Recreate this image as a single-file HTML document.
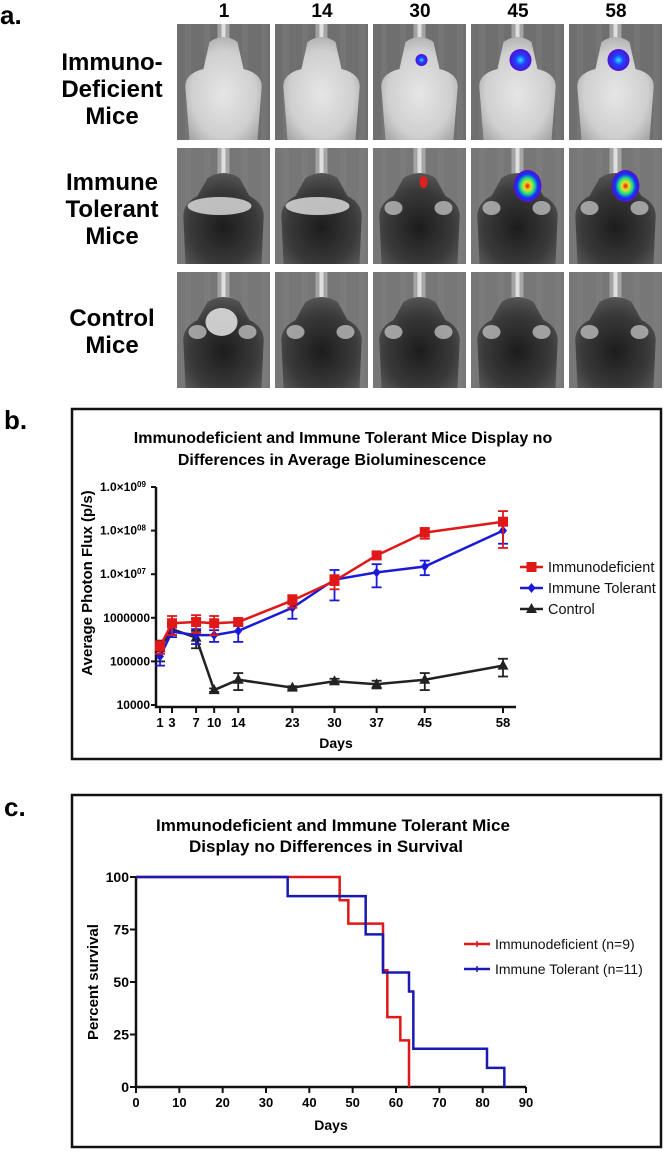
<!DOCTYPE html>
<html><head><meta charset="utf-8">
<style>
html,body{margin:0;padding:0;background:#fff;}
body{width:664px;height:1150px;overflow:hidden;font-family:"Liberation Sans",Arial,sans-serif;}
svg text{font-family:"Liberation Sans",Arial,sans-serif;}
</style></head>
<body>
<svg id="fig" width="664" height="1150" viewBox="0 0 664 1150" xmlns="http://www.w3.org/2000/svg">
<defs>
  <radialGradient id="lightBody" cx="50%" cy="55%" r="60%">
    <stop offset="0" stop-color="#e6e6e6"/><stop offset="0.7" stop-color="#cfcfcf"/><stop offset="1" stop-color="#a8a8a8"/>
  </radialGradient>
  <radialGradient id="darkBody" cx="50%" cy="60%" r="60%">
    <stop offset="0" stop-color="#1c1c1c"/><stop offset="0.7" stop-color="#3a3a3a"/><stop offset="1" stop-color="#555"/>
  </radialGradient>
  <radialGradient id="sigBlue" cx="50%" cy="50%" r="50%">
    <stop offset="0" stop-color="#30e0ff"/><stop offset="0.45" stop-color="#2040ff"/><stop offset="1" stop-color="#5010d0"/>
  </radialGradient>
  <radialGradient id="sigHot" cx="50%" cy="50%" r="50%">
    <stop offset="0" stop-color="#e01010"/><stop offset="0.25" stop-color="#f0e020"/><stop offset="0.5" stop-color="#20e080"/><stop offset="0.75" stop-color="#1030ff"/><stop offset="1" stop-color="#6010c0"/>
  </radialGradient>
</defs>

<!-- Panel a -->
<text x="0" y="24" font-size="26" font-weight="bold">a.</text>
<g id="colLabels" font-size="19" font-weight="bold" text-anchor="middle">
  <text x="224" y="17">1</text>
  <text x="322" y="17">14</text>
  <text x="420" y="17">30</text>
  <text x="518" y="17">45</text>
  <text x="616" y="17">58</text>
</g>
<g font-size="24" font-weight="bold" text-anchor="middle">
  <text x="112" y="70">Immuno-</text>
  <text x="112" y="97">Deficient</text>
  <text x="112" y="124">Mice</text>
  <text x="112" y="190">Immune</text>
  <text x="112" y="217">Tolerant</text>
  <text x="112" y="244">Mice</text>
  <text x="112" y="326">Control</text>
  <text x="112" y="353">Mice</text>
</g>
<g id="tiles"></g>

<!-- Panel b -->
<text x="4" y="429" font-size="26" font-weight="bold">b.</text>
<rect x="72" y="409" width="589" height="350" fill="none" stroke="#111" stroke-width="2.5"/>
<g id="chartB"></g>

<!-- Panel c -->
<text x="4" y="816" font-size="26" font-weight="bold">c.</text>
<rect x="72" y="795" width="589" height="352" fill="none" stroke="#111" stroke-width="2.5"/>
<g id="chartC"></g>
</svg>

<script>
// ===== Chart B data =====
const daysB = [1, 3, 7, 10, 14, 23, 30, 37, 45, 58];
const xTicksB = [1, 3, 7, 10, 14, 23, 30, 37, 45, 58];
const immunodeficientMean = [2.2e5, 7.5e5, 8e5, 7.5e5, 8e5, 2.5e6, 7e6, 2.7e7, 9e7, 1.6e8];
const immunodeficientErr = [0.7e5, 3.5e5, 3.5e5, 3.5e5, 1.5e5, 0.8e6, 2.5e6, 0.5e7, 2.5e7, 1.2e8];
const immuneTolerantMean = [1.3e5, 4.8e5, 4e5, 4e5, 5e5, 1.7e6, 7.5e6, 1.1e7, 1.5e7, 1e8];
const immuneTolerantErr = [0.5e5, 1.2e5, 1.5e5, 1.2e5, 2.2e5, 0.75e6, 5e6, 0.6e7, 0.55e7, 0.5e8];
const controlMean = [2e5, 5.5e5, 3.5e5, 2.2e4, 3.8e4, 2.5e4, 3.5e4, 3e4, 3.8e4, 8e4];
const controlErr = [1e5, 1.5e5, 1.5e5, 0.2e4, 1.6e4, 0.2e4, 0.5e4, 0.6e4, 1.6e4, 3.5e4];
const yTickValsB = [1e4, 1e5, 1e6, 1e7, 1e8, 1e9];
const yTickLabelsB = ["10000", "100000", "1000000", "1.0×10", "1.0×10", "1.0×10"];
const yTickSupB = ["", "", "", "07", "08", "09"];

// ===== Chart C data =====
const idStepDays = [0, 47, 49, 57, 58, 61, 63];
const idStepPct = [100, 88.9, 77.8, 55.6, 33.3, 22.2, 0];
const itStepDays = [0, 35, 53, 57, 63, 64, 81, 85];
const itStepPct = [100, 90.9, 72.7, 54.5, 45.5, 18.2, 9.1, 0];
const xTicksC = [0, 10, 20, 30, 40, 50, 60, 70, 80, 90];
const yTicksC = [0, 25, 50, 75, 100];

const NS = "http://www.w3.org/2000/svg";
function mk(parent, tag, attrs, text) {
  const e = document.createElementNS(NS, tag);
  for (const k in attrs) e.setAttribute(k, attrs[k]);
  if (text !== undefined) e.textContent = text;
  parent.appendChild(e);
  return e;
}

// ===== Panel a tiles =====
(function () {
  const g = document.getElementById('tiles');
  const cols = [177, 275, 373, 471, 569];
  const rows = [24, 148, 272];
  const tw = 93, th = 116;
  const colDays = ["1", "14", "30", "45", "58"];
  const rowNames = ["immunodeficient", "immune-tolerant", "control"];
  rows.forEach((ry, ri) => {
    cols.forEach((cx, ci) => {
      const t = mk(g, 'g', {});
      
      
      mk(t, 'rect', {x: cx, y: ry, width: tw, height: th, fill: ri === 0 ? '#6f6f6f' : '#777'});
      // streaks
      for (let s = 0; s < 5; s++) mk(t, 'rect', {x: cx + 8 + s * 19, y: ry, width: 6, height: th, fill: '#888', opacity: 0.25});
      const mx = cx + tw / 2;
      // nose cone tube
      mk(t, 'rect', {x: mx - 6, y: ry, width: 12, height: 38, fill: '#b8b8b8', opacity: 0.7});
      mk(t, 'rect', {x: mx - 2, y: ry, width: 4, height: 38, fill: '#eee', opacity: 0.8});
      if (ri === 0) {
        mk(t, 'path', {d: `M${mx-14},${ry+18} Q${mx},${ry+8} ${mx+14},${ry+18} L${mx+20},${ry+45} Q${mx+40},${ry+50} ${mx+38},${ry+65} L${mx+34},${ry+th} L${mx-34},${ry+th} L${mx-38},${ry+65} Q${mx-40},${ry+50} ${mx-20},${ry+45} Z`, fill: 'url(#lightBody)'});
      } else {
        mk(t, 'path', {d: `M${mx-16},${ry+30} Q${mx},${ry+20} ${mx+16},${ry+30} L${mx+26},${ry+48} Q${mx+42},${ry+56} ${mx+40},${ry+72} L${mx+38},${ry+th} L${mx-38},${ry+th} L${mx-40},${ry+72} Q${mx-42},${ry+56} ${mx-26},${ry+48} Z`, fill: 'url(#darkBody)'});
        if (ri === 1 && ci < 2) mk(t, 'ellipse', {cx: mx - 4, cy: ry + 58, rx: 32, ry: 9, fill: '#d8d8d8', opacity: 0.85});
        else { mk(t, 'ellipse', {cx: mx - 26, cy: ry + 60, rx: 9, ry: 7, fill: '#bbb', opacity: 0.8}); mk(t, 'ellipse', {cx: mx + 24, cy: ry + 60, rx: 9, ry: 7, fill: '#bbb', opacity: 0.8}); }
        if (ri === 2 && ci === 0) mk(t, 'ellipse', {cx: mx - 2, cy: ry + 50, rx: 16, ry: 14, fill: '#ddd', opacity: 0.9});
      }
      // signals
      if (ri === 0 && ci === 2) mk(t, 'circle', {cx: mx + 2, cy: ry + 36, r: 6, fill: 'url(#sigBlue)'});
      if (ri === 0 && ci >= 3) mk(t, 'circle', {cx: mx + 3, cy: ry + 36, r: 11, fill: 'url(#sigBlue)'});
      if (ri === 1 && ci === 2) mk(t, 'ellipse', {cx: mx + 4, cy: ry + 34, rx: 4, ry: 6, fill: '#e02020'});
      if (ri === 1 && ci >= 3) mk(t, 'ellipse', {cx: mx + 10, cy: ry + 38, rx: 14, ry: 16, fill: 'url(#sigHot)'});
    });
  });
})();

// ===== Chart B =====
(function () {
  const g = document.getElementById('chartB');
  const x0 = 160, x1 = 503, d0 = 1, d1 = 58;
  const yTop = 487, yBot = 705;
  const xS = d => x0 + (d - d0) * (x1 - x0) / (d1 - d0);
  const yS = v => yBot - (Math.log10(v) - 4) * (yBot - yTop) / 5;

  const t1 = mk(g, 'text', {x: 343, y: 443, 'font-size': 16, 'font-weight': 'bold', 'text-anchor': 'middle'}, 'Immunodeficient and Immune Tolerant Mice Display no');
  
  
  const t2 = mk(g, 'text', {x: 332, y: 465, 'font-size': 16, 'font-weight': 'bold', 'text-anchor': 'middle'}, 'Differences in Average Bioluminescence');
  
  

  const ax = mk(g, 'path', {d: `M156,${yTop} L156,707 L516,707`, fill: 'none', stroke: '#111', 'stroke-width': 2.5});
  
  

  yTickValsB.forEach((v, i) => {
    const y = yS(v);
    mk(g, 'line', {x1: 151, y1: y, x2: 156, y2: y, stroke: '#111', 'stroke-width': 2});
    const tx = mk(g, 'text', {x: yTickSupB[i] ? 137 : 150, y: y + 4, 'font-size': 12, 'font-weight': 'bold', 'text-anchor': 'end'}, yTickLabelsB[i]);
    
    
    if (yTickSupB[i]) mk(g, 'text', {x: 137, y: y, 'font-size': 8, 'font-weight': 'bold'}, yTickSupB[i]);
  });
  xTicksB.forEach(d => {
    const x = xS(d);
    mk(g, 'line', {x1: x, y1: 707, x2: x, y2: 713, stroke: '#111', 'stroke-width': 2});
    const tx = mk(g, 'text', {x: x, y: 727, 'font-size': 13, 'font-weight': 'bold', 'text-anchor': 'middle'}, String(d));
    
    
  });
  const xl = mk(g, 'text', {x: 336, y: 748, 'font-size': 14, 'font-weight': 'bold', 'text-anchor': 'middle'}, 'Days');
  
  
  const yl = mk(g, 'text', {x: 0, y: 0, 'font-size': 15, 'font-weight': 'bold', 'text-anchor': 'middle', transform: 'translate(92,583) rotate(-90)'}, 'Average Photon Flux (p/s)');
  
  

  const series = [
    {name: 'control', mean: controlMean, err: controlErr, color: '#222', marker: 'tri'},
    {name: 'immune-tolerant', mean: immuneTolerantMean, err: immuneTolerantErr, color: '#1a1ad8', marker: 'dia'},
    {name: 'immunodeficient', mean: immunodeficientMean, err: immunodeficientErr, color: '#e01818', marker: 'sq'}
  ];
  function marker(sg, m, x, y, c) {
    if (m === 'sq') mk(sg, 'rect', {x: x - 5, y: y - 5, width: 10, height: 10, fill: c});
    else if (m === 'dia') mk(sg, 'path', {d: `M${x},${y-5} L${x+4},${y} L${x},${y+5} L${x-4},${y} Z`, fill: c});
    else mk(sg, 'path', {d: `M${x},${y-6} L${x+5.5},${y+4} L${x-5.5},${y+4} Z`, fill: c});
  }
  series.forEach(s => {
    const sg = mk(g, 'g', {});
    
    
    daysB.forEach((d, i) => {
      const x = xS(d);
      const yh = yS(s.mean[i] + s.err[i]);
      const yl2 = yS(Math.max(s.mean[i] - s.err[i], 1e4));
      mk(sg, 'line', {x1: x, y1: yh, x2: x, y2: yl2, stroke: s.color, 'stroke-width': 1.8});
      mk(sg, 'line', {x1: x - 5, y1: yh, x2: x + 5, y2: yh, stroke: s.color, 'stroke-width': 1.8});
      mk(sg, 'line', {x1: x - 5, y1: yl2, x2: x + 5, y2: yl2, stroke: s.color, 'stroke-width': 1.8});
    });
    const pts = daysB.map((d, i) => xS(d) + ',' + yS(s.mean[i])).join(' ');
    mk(sg, 'polyline', {points: pts, fill: 'none', stroke: s.color, 'stroke-width': 2.5});
    daysB.forEach((d, i) => marker(sg, s.marker, xS(d), yS(s.mean[i]), s.color));
  });

  const legend = [
    {label: 'Immunodeficient', color: '#e01818', marker: 'sq'},
    {label: 'Immune Tolerant', color: '#1a1ad8', marker: 'dia'},
    {label: 'Control', color: '#222', marker: 'tri'}
  ];
  legend.forEach((l, i) => {
    const y = 567 + i * 21;
    const lg = mk(g, 'g', {});
    
    
    mk(lg, 'line', {x1: 520, y1: y, x2: 543, y2: y, stroke: l.color, 'stroke-width': 2.5});
    marker(lg, l.marker, 531.5, y, l.color);
    mk(lg, 'text', {x: 548, y: y + 5, 'font-size': 14.5, fill: '#111'}, l.label);
  });
})();

// ===== Chart C =====
(function () {
  const g = document.getElementById('chartC');
  const x0 = 136, x1 = 526, yTop = 877, yBot = 1087;
  const xS = d => x0 + d * (x1 - x0) / 90;
  const yS = p => yBot - p * (yBot - yTop) / 100;

  const t1 = mk(g, 'text', {x: 333, y: 831, 'font-size': 17, 'font-weight': 'bold', 'text-anchor': 'middle'}, 'Immunodeficient and Immune Tolerant Mice');
  
  
  const t2 = mk(g, 'text', {x: 326, y: 852, 'font-size': 17, 'font-weight': 'bold', 'text-anchor': 'middle'}, 'Display no Differences in Survival');
  
  

  const ax = mk(g, 'path', {d: `M136,${yTop} L136,${yBot} L${x1},${yBot}`, fill: 'none', stroke: '#111', 'stroke-width': 2.5});
  
  
  yTicksC.forEach(p => {
    const y = yS(p);
    mk(g, 'line', {x1: 130, y1: y, x2: 136, y2: y, stroke: '#111', 'stroke-width': 2});
    const tx = mk(g, 'text', {x: 129, y: y + 5, 'font-size': 14, 'font-weight': 'bold', 'text-anchor': 'end'}, String(p));
    
    
  });
  xTicksC.forEach(d => {
    const x = xS(d);
    mk(g, 'line', {x1: x, y1: yBot, x2: x, y2: yBot + 6, stroke: '#111', 'stroke-width': 2});
    const tx = mk(g, 'text', {x: x, y: yBot + 20, 'font-size': 13, 'font-weight': 'bold', 'text-anchor': 'middle'}, String(d));
    
    
  });
  const xl = mk(g, 'text', {x: 331, y: 1130, 'font-size': 14, 'font-weight': 'bold', 'text-anchor': 'middle'}, 'Days');
  
  
  const yl = mk(g, 'text', {x: 0, y: 0, 'font-size': 15, 'font-weight': 'bold', 'text-anchor': 'middle', transform: 'translate(98,982) rotate(-90)'}, 'Percent survival');
  
  

  function stepPath(days, pct) {
    let d = `M${xS(days[0])},${yS(pct[0])}`;
    for (let i = 1; i < days.length; i++) {
      d += ` L${xS(days[i])},${yS(pct[i-1])} L${xS(days[i])},${yS(pct[i])}`;
    }
    return d;
  }
  const red = mk(g, 'path', {d: stepPath(idStepDays, idStepPct), fill: 'none', stroke: '#e01818', 'stroke-width': 2.5});
  
  
  const blue = mk(g, 'path', {d: stepPath(itStepDays, itStepPct), fill: 'none', stroke: '#1a1ab0', 'stroke-width': 2.5});
  
  

  const legend = [
    {label: 'Immunodeficient (n=9)', color: '#e01818'},
    {label: 'Immune Tolerant (n=11)', color: '#1a1ab0'}
  ];
  legend.forEach((l, i) => {
    const y = 944 + i * 25;
    const lg = mk(g, 'g', {});
    
    
    mk(lg, 'line', {x1: 464, y1: y, x2: 490, y2: y, stroke: l.color, 'stroke-width': 2.5});
    mk(lg, 'line', {x1: 477, y1: y - 3, x2: 477, y2: y + 3, stroke: l.color, 'stroke-width': 1.5});
    mk(lg, 'text', {x: 495, y: y + 5, 'font-size': 14, fill: '#111'}, l.label);
  });
})();
</script>
</body></html>
